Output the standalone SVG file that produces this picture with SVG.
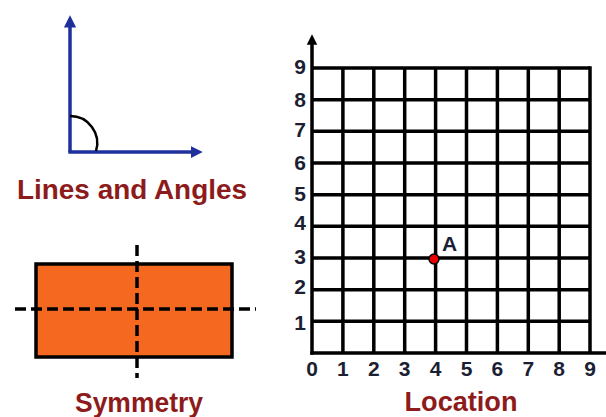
<svg xmlns="http://www.w3.org/2000/svg" width="606" height="417" viewBox="0 0 606 417">
<defs>
<marker id="blueArrow" markerWidth="3.5" markerHeight="3.5" refX="1" refY="1.75" orient="auto" markerUnits="strokeWidth">
<path d="M0,0 L3.5,1.75 L0,3.5 Z" fill="#1f2f9c"/>
</marker>
<marker id="blackArrow" markerWidth="3" markerHeight="3" refX="0.8" refY="1.5" orient="auto" markerUnits="strokeWidth">
<path d="M0,0 L3,1.5 L0,3 Z" fill="#000"/>
</marker>
</defs>
<style>
.title{font-family:"Liberation Sans",Arial,sans-serif;font-weight:bold;font-size:27px;fill:#8e1b1b;text-anchor:middle}
.num{font-family:"Liberation Sans",Arial,sans-serif;font-weight:bold;font-size:21px;fill:#1c1f33}
.grid{stroke:#000;stroke-width:3.5;fill:none}
.dash{stroke:#000;stroke-width:3.5;stroke-dasharray:11 5;fill:none}
</style>
<rect width="606" height="417" fill="#fff"/>

<g id="lines-and-angles">
<line x1="70" y1="152" x2="70" y2="24" stroke="#1f2f9c" stroke-width="3.5" marker-end="url(#blueArrow)"/>
<line x1="68.3" y1="152" x2="194" y2="152" stroke="#1f2f9c" stroke-width="3.5" marker-end="url(#blueArrow)"/>
<path d="M70,116 A27,27 0 0 1 96,151" stroke="#000" stroke-width="2.5" fill="none"/>
<text class="title" x="132" y="199" textLength="230" lengthAdjust="spacingAndGlyphs">Lines and Angles</text>
</g>

<g id="symmetry">
<rect x="36" y="264" width="196" height="93" fill="#f4691f" stroke="#000" stroke-width="3.5"/>
<line class="dash" x1="15" y1="309" x2="256" y2="309"/>
<line class="dash" x1="137" y1="245" x2="137" y2="378"/>
<text class="title" x="139" y="412" textLength="128" lengthAdjust="spacingAndGlyphs">Symmetry</text>
</g>

<g id="location">
<g id="grid-lines">
<path class="grid" d="M312,68 H590 M312,99.7 H590 M312,131.3 H590 M312,163 H590 M312,194.7 H590 M312,226.3 H590 M312,258 H590 M312,289.7 H590 M312,321.3 H590"/>
<path class="grid" d="M342.9,68 V353 M373.8,68 V353 M404.7,68 V353 M435.6,68 V353 M466.5,68 V353 M497.4,68 V353 M528.3,68 V353 M559.2,68 V353 M590,66.3 V353"/>
</g>
<g id="axes">
<line x1="312" y1="354.7" x2="312" y2="42" stroke="#000" stroke-width="3.5" marker-end="url(#blackArrow)"/>
<line x1="310.3" y1="353" x2="606" y2="353" stroke="#000" stroke-width="3.5"/>
</g>
<g id="y-labels" class="num" text-anchor="end">
<text x="306" y="74">9</text>
<text x="306" y="107">8</text>
<text x="306" y="137">7</text>
<text x="306" y="170">6</text>
<text x="306" y="201">5</text>
<text x="306" y="230">4</text>
<text x="306" y="264">3</text>
<text x="306" y="294">2</text>
<text x="306" y="330">1</text>
</g>
<g id="x-labels" class="num" text-anchor="middle">
<text x="312" y="376">0</text>
<text x="342.9" y="376">1</text>
<text x="373.8" y="376">2</text>
<text x="404.7" y="376">3</text>
<text x="435.6" y="376">4</text>
<text x="466.5" y="376">5</text>
<text x="497.4" y="376">6</text>
<text x="528.3" y="376">7</text>
<text x="559.2" y="376">8</text>
<text x="590" y="376">9</text>
</g>
<g id="point-a">
<circle cx="434" cy="259" r="5" fill="#e80000" stroke="#000" stroke-width="1.5"/>
<text class="num" x="442" y="251" font-size="21">A</text>
</g>
<text class="title" x="461" y="411" textLength="113" lengthAdjust="spacingAndGlyphs">Location</text>
</g>
</svg>
